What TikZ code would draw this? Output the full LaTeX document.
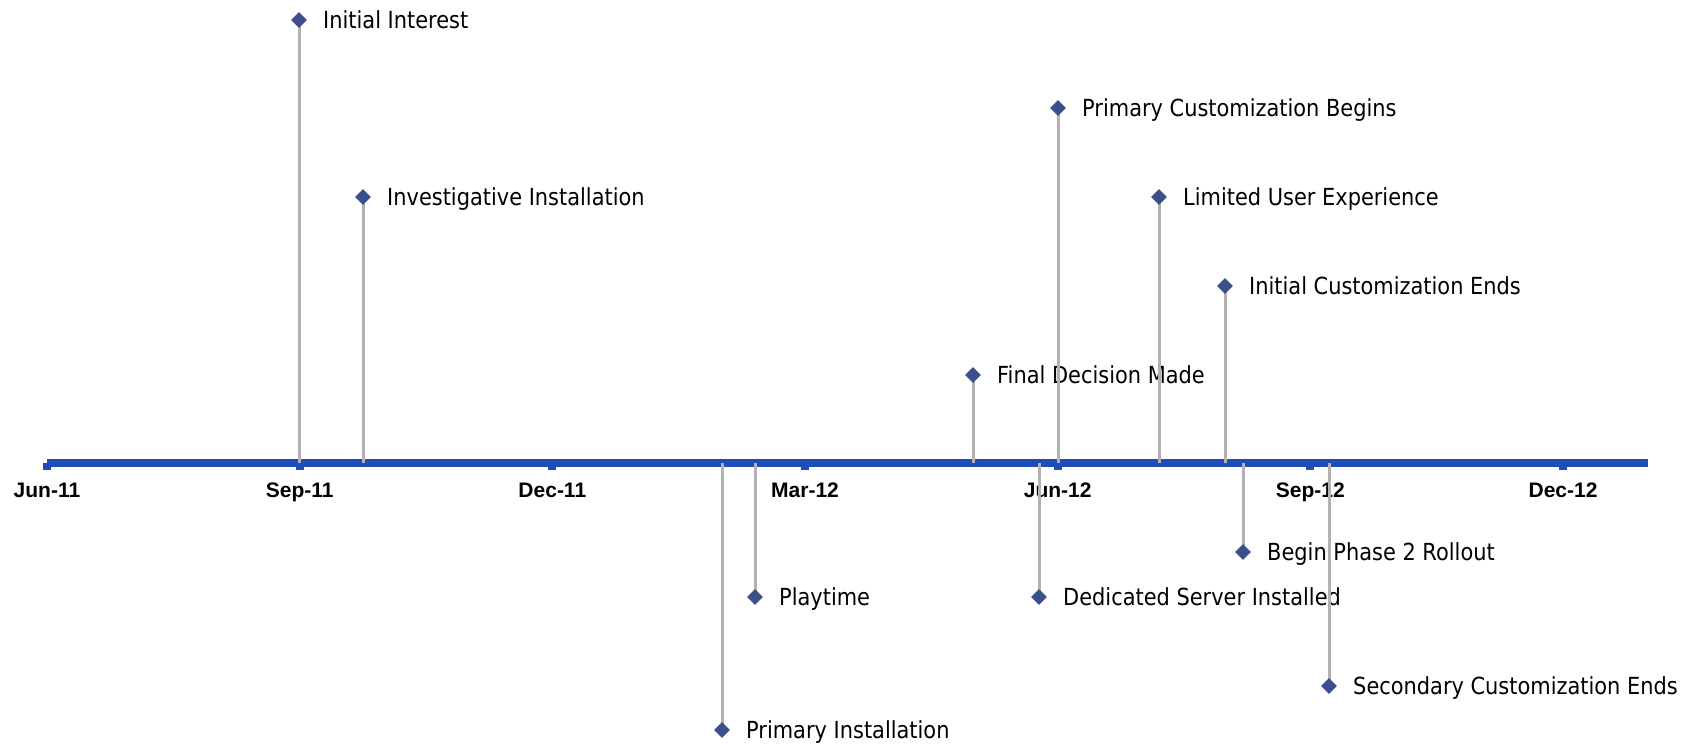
\documentclass[tikz,border=0pt]{standalone}
\usepackage{fontspec}
\setmainfont{DejaVu Sans}[FakeStretch=0.89]
\newfontfamily\axisfont{Liberation Sans}
\usetikzlibrary{shapes.geometric}
\definecolor{axisblue}{RGB}{30,77,183}
\definecolor{markblue}{RGB}{60,79,141}
\definecolor{stemgray}{RGB}{178,178,178}
\tikzset{
  marker/.style={diamond,fill=markblue,draw=none,inner sep=0pt,minimum width=16pt,minimum height=16pt},
  evlabel/.style={anchor=base west,inner sep=0pt,yshift=-8.5pt,font=\fontsize{23.5}{28}\selectfont,text=black},
  ticklabel/.style={anchor=base,inner sep=0pt,font=\axisfont\bfseries\fontsize{21}{25}\selectfont,text=black},
  stem/.style={draw=stemgray,line width=3pt},
}
\begin{document}
\begin{tikzpicture}[x=1pt,y=-1pt]
\useasboundingbox[fill=white] (0,0) rectangle (1696,745);
% axis
\fill[axisblue] (47,459) rectangle (1648,467);
\foreach \i/\t in {0/Jun-11,1/Sep-11,2/Dec-11,3/Mar-12,4/Jun-12,5/Sep-12,6/Dec-12}{
  \pgfmathsetmacro{\tx}{47+252.67*\i}
  \fill[axisblue] (\tx-4,463) rectangle (\tx+4,470);
  \node[ticklabel] (tick\i) at (\tx,497) {\t};
}
% labels
\node[evlabel] (l1) at (323,20) {Initial Interest};
\node[evlabel] (l2) at (387,197) {Investigative Installation};
\node[evlabel] (l3) at (746,730) {Primary Installation};
\node[evlabel] (l4) at (779,597) {Playtime};
\node[evlabel] (l5) at (997,375) {Final Decision Made};
\node[evlabel] (l6) at (1063,597) {Dedicated Server Installed};
\node[evlabel] (l7) at (1082,108) {Primary Customization Begins};
\node[evlabel] (l8) at (1183,197) {Limited User Experience};
\node[evlabel] (l9) at (1249,286) {Initial Customization Ends};
\node[evlabel] (l10) at (1267,552) {Begin Phase 2 Rollout};
\node[evlabel] (l11) at (1353,686) {Secondary Customization Ends};
% axis anchor points
\foreach \n/\x in {1/299,2/363,3/722,4/755,5/973,6/1039,7/1058,8/1159,9/1225,10/1243,11/1329}{
  \coordinate (a\n) at (\x,463);
}
% markers (positions)
\coordinate (p1) at (299,20);
\coordinate (p2) at (363,197);
\coordinate (p3) at (722,730);
\coordinate (p4) at (755,597);
\coordinate (p5) at (973,375);
\coordinate (p6) at (1039,597);
\coordinate (p7) at (1058,108);
\coordinate (p8) at (1159,197);
\coordinate (p9) at (1225,286);
\coordinate (p10) at (1243,552);
\coordinate (p11) at (1329,686);
% stems
\foreach \n in {1,...,11}{ \draw[stem] (p\n) -- (a\n); }
% markers
\foreach \n in {1,...,11}{ \node[marker] (m\n) at (p\n) {}; }
\end{tikzpicture}
\end{document}
